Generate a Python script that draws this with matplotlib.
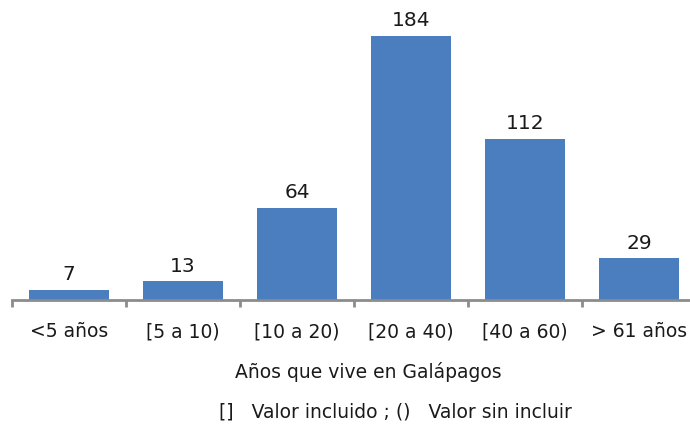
import numpy as np
import matplotlib.pyplot as plt

# Datos
categorias = ['<5 años', '[5 a 10)', '[10 a 20)', '[20 a 40)', '[40 a 60)', '> 61 años']
valores = [7, 13, 64, 184, 112, 29]

plt.rcParams['font.family'] = ['DejaVu Sans']

fig = plt.figure(figsize=(6.9, 4.28), dpi=100)
ax = fig.add_axes([12 / 690, 128 / 428, 684 / 690, 300 / 428])

x = np.arange(len(categorias))
barras = ax.bar(x, valores, width=0.71, color='#4A7EBF')

ax.set_xlim(-0.5, len(categorias) - 0.5)
ax.set_ylim(0, 209)

# Etiquetas de valor
for xi, v in zip(x, valores):
    ax.text(xi, v + 4, str(v), ha='center', va='bottom', fontsize=14.5,
            color='#1a1a1a')

# Ejes
for s in ['top', 'right', 'left']:
    ax.spines[s].set_visible(False)
ax.spines['bottom'].set_color('#8c8c8c')
ax.spines['bottom'].set_linewidth(2)
ax.set_yticks([])

ax.set_xticks(x)
ax.set_xticklabels(categorias, fontsize=13.5, color='#1a1a1a')
ax.tick_params(axis='x', which='major', length=0, pad=16)
ax.set_xticks(np.arange(-0.5, len(categorias), 1), minor=True)
ax.tick_params(axis='x', which='minor', length=5, width=2, color='#8c8c8c')

fig.text(368 / 690, 1 - 372 / 428, 'Años que vive en Galápagos', ha='center', va='center',
         fontsize=13.5, color='#1a1a1a')
fig.text(395 / 690, 1 - 412 / 428, '[]   Valor incluido ; ()   Valor sin incluir', ha='center',
         va='center', fontsize=13.5, color='#1a1a1a')

fig.savefig('out.png', dpi=100)
